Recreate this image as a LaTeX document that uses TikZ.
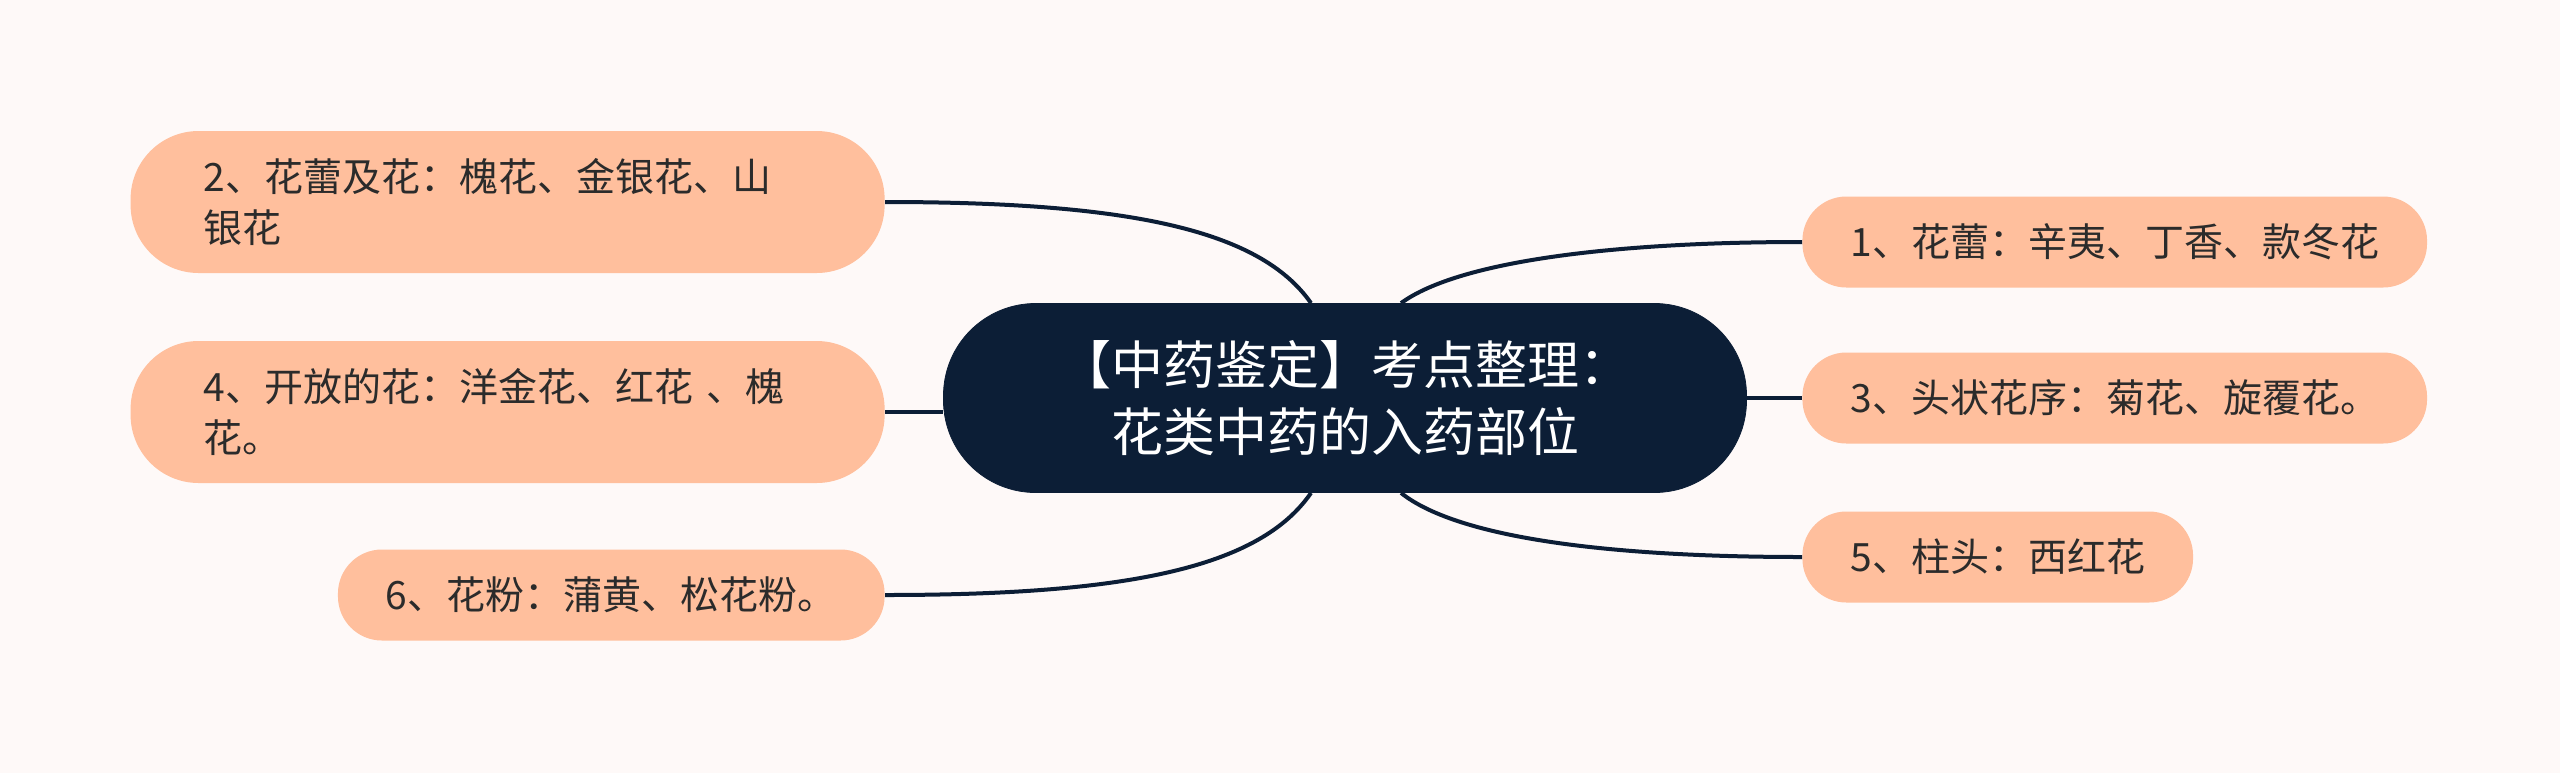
\documentclass[tikz,border=0pt]{standalone}
\usepackage{fontspec}
\setmainfont{Noto Sans CJK SC}
\usetikzlibrary{calc}
\definecolor{bgc}{HTML}{FEF9F8}
\definecolor{navy}{HTML}{0C1E36}
\definecolor{peach}{HTML}{FFBF9D}
\definecolor{txt}{HTML}{2B2B2B}
\tikzset{
  centralbox/.style={fill=navy, draw=navy, rounded corners=46pt, minimum width=401.5pt, minimum height=94.5pt,
    align=center, text=white, font=\fontsize{26pt}{33.5pt}\selectfont, inner sep=0pt},
  leafbox/.style={fill=peach, draw=none, rounded corners=22pt, minimum height=45.5pt, inner xsep=24pt, inner ysep=0pt,
    text=txt, font=\fontsize{19.5pt}{25.5pt}\selectfont},
  leafwide/.style={leafbox, rounded corners=34pt, minimum height=71pt, inner xsep=36.5pt, text width=304pt, align=left},
  conn/.style={draw=navy, line width=2pt}
}
\begin{document}
\begin{tikzpicture}[x=0.5pt,y=-0.5pt]
\fill[bgc] (0,0) rectangle (2560,773);
\useasboundingbox (0,0) rectangle (2560,773);

\node[centralbox] (c) at (1345,398) {【中药鉴定】考点整理：\\花类中药的入药部位};

\node[leafbox, anchor=west] (n1) at (1802,242) {1、花蕾：辛夷、丁香、款冬花};
\node[leafbox, anchor=west] (n3) at (1802,398) {3、头状花序：菊花、旋覆花。};
\node[leafbox, anchor=west] (n5) at (1802,557) {5、柱头：西红花};

\node[leafwide, anchor=east] (n2) at (885,202) {2、花蕾及花：槐花、金银花、山\\银花};
\node[leafwide, anchor=east] (n4) at (885,412) {4、开放的花：洋金花、红花 、槐\\花。};
\node[leafbox, anchor=east] (n6) at (885,595) {6、花粉：蒲黄、松花粉。};

\coordinate (ctl) at ($(c.north)+(-34,0)$);
\coordinate (ctr) at ($(c.north)+(56,0)$);
\coordinate (cbl) at ($(c.south)+(-34,0)$);
\coordinate (cbr) at ($(c.south)+(56,0)$);

\draw[conn] (n2.east) .. controls (1130,202) and (1260,230) .. (ctl);
\draw[conn] (n6.east) .. controls (1130,595) and (1260,567) .. (cbl);
\draw[conn] (n4.east) -- (n4.east -| c.west);
\draw[conn] (c.east) -- (n3.west);
\draw[conn] (ctr) .. controls (1460,260) and (1620,242) .. (n1.west);
\draw[conn] (cbr) .. controls (1460,540) and (1620,557) .. (n5.west);
\end{tikzpicture}
\end{document}
